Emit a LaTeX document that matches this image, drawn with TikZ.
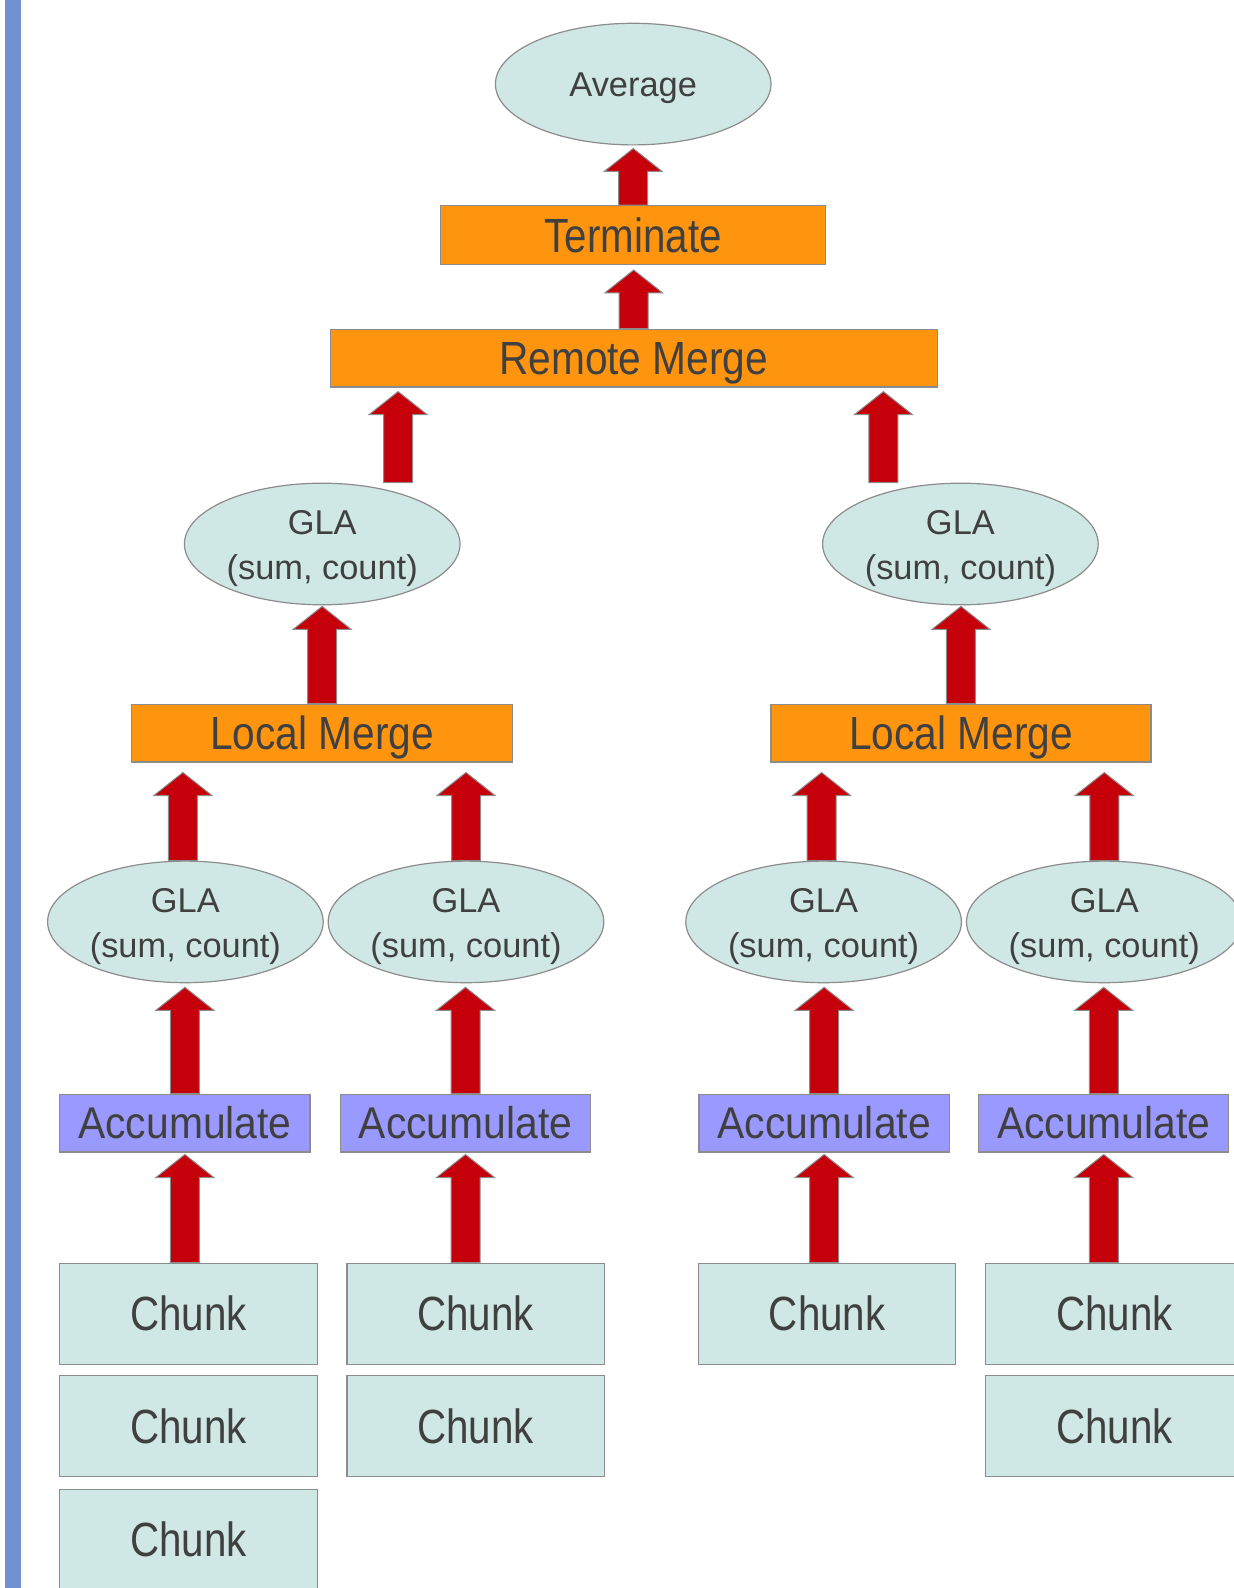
\documentclass[tikz,border=0pt]{standalone}
\usepackage{fontspec}
\setmainfont{Liberation Sans}
\newfontfamily\chunkfont[FakeStretch=0.84]{Liberation Sans}
\newfontfamily\accfont[FakeStretch=0.92]{Liberation Sans}
\newfontfamily\mergefont[FakeStretch=0.875]{Liberation Sans}
\usetikzlibrary{shapes.geometric,calc}

\definecolor{paleteal}{HTML}{CFE7E5}
\definecolor{boxorange}{HTML}{FF950E}
\definecolor{accviolet}{HTML}{9999FF}
\definecolor{arrowred}{HTML}{C5000B}
\definecolor{edgegray}{HTML}{8C8C8C}
\definecolor{inkgray}{HTML}{404040}
\definecolor{barblue}{HTML}{7391D0}

% block arrow pointing up: #1 = foot (sets x and bottom), #2 = tip height
\newcommand\flowarrow[2]{%
  \draw[flow] let \p1=(#1), \p2=(#2) in
    (\x1-7.25pt,\y1) -- (\x1-7.25pt,\y2-11.5pt) -- (\x1-14.5pt,\y2-11.5pt)
    -- (\x1,\y2) -- (\x1+14.5pt,\y2-11.5pt) -- (\x1+7.25pt,\y2-11.5pt)
    -- (\x1+7.25pt,\y1) -- cycle;}

% two-line aggregate label, first line given a taller strut to sit lower
\newcommand\glalabel{\rule{0pt}{16.7pt}GLA\\(sum, count)}

\tikzset{
  base/.style={draw=edgegray, line width=0.6pt, inner sep=0pt, text=inkgray},
  oval/.style={base, ellipse, fill=paleteal, minimum width=137.8pt,
    minimum height=60.8pt, align=center,
    font=\fontsize{17.2pt}{22.5pt}\selectfont},
  ovalone/.style={base, ellipse, fill=paleteal, minimum width=137.8pt,
    minimum height=60.8pt, font=\fontsize{17.2pt}{22.5pt}\selectfont,
    text height=12.3pt, text depth=0pt},
  stage/.style={base, rectangle, fill=boxorange,
    font=\mergefont\fontsize{23.25pt}{28pt}\selectfont,
    text height=16.6pt, text depth=0pt},
  accbox/.style={base, rectangle, fill=accviolet, minimum width=125.1pt,
    minimum height=28.85pt, font=\accfont\fontsize{22.2pt}{26pt}\selectfont,
    text height=15.9pt, text depth=0pt},
  chunkbox/.style={base, rectangle, fill=paleteal, minimum width=128.65pt,
    minimum height=50.4pt, font=\chunkfont\fontsize{24pt}{28pt}\selectfont,
    text height=17.2pt, text depth=0pt},
  flow/.style={fill=arrowred, draw=edgegray, line width=0.5pt, line join=miter}
}

\begin{document}
\begin{tikzpicture}[x=0.5pt, y=-0.5pt]
\useasboundingbox (0,0) rectangle (1233,1588);
\fill[barblue] (5,0) rectangle (21,1588);

% top of the tree
\node[ovalone] (avg) at (633.2,84.1) {Average};
\node[stage, minimum width=192.5pt, minimum height=29.35pt,
      font=\chunkfont\fontsize{24pt}{28pt}\selectfont, text height=17.2pt]
      (term) at (633.2,235.05) {Terminate};
\node[stage, minimum width=303.4pt, minimum height=28.85pt]
      (remote) at (633.7,358.15) {Remote Merge};

% per-node aggregates
\node[oval] (glaL) at (322.2,544) {\glalabel};
\node[oval] (glaR) at (960.4,544) {\glalabel};
\node[stage, minimum width=190.45pt, minimum height=28.9pt]
      (localL) at (322.15,733) {Local Merge};
\node[stage, minimum width=190pt, minimum height=28.9pt]
      (localR) at (960.95,733) {Local Merge};

% per-thread aggregates
\node[oval] (gla1) at (185.4,921.9) {\glalabel};
\node[oval] (gla2) at (466,921.9) {\glalabel};
\node[oval] (gla3) at (823.6,921.9) {\glalabel};
\node[oval] (gla4) at (1104.3,921.9) {\glalabel};

\node[accbox] (acc1) at (184.9,1123.05) {Accumulate};
\node[accbox] (acc2) at (465.5,1123.05) {Accumulate};
\node[accbox] (acc3) at (824.15,1123.05) {Accumulate};
\node[accbox] (acc4) at (1103.75,1123.05) {Accumulate};

% input chunks
\node[chunkbox] (c11) at (188.45,1313.7) {Chunk};
\node[chunkbox] (c12) at (188.45,1426.2) {Chunk};
\node[chunkbox] (c13) at (188.45,1539.7) {Chunk};
\node[chunkbox] (c21) at (475.65,1313.7) {Chunk};
\node[chunkbox] (c22) at (475.65,1426.2) {Chunk};
\node[chunkbox] (c31) at (827.2,1313.7) {Chunk};
\node[chunkbox] (c41) at (1114.35,1313.7) {Chunk};
\node[chunkbox] (c42) at (1114.35,1426.2) {Chunk};

% data flow arrows
\flowarrow{term.north}{$(avg.south)+(0,3)$}
\flowarrow{remote.north}{$(term.south)+(0,5)$}
\flowarrow{[xshift=37.95pt]glaL.north}{$(remote.south)+(0,4)$}
\flowarrow{[xshift=-38.5pt]glaR.north}{$(remote.south)+(0,4)$}
\flowarrow{localL.north}{$(glaL.south)+(0,1)$}
\flowarrow{localR.north}{$(glaR.south)+(0,1)$}
\flowarrow{[xshift=-1.25pt]gla1.north}{$(localL.south)+(0,10)$}
\flowarrow{gla2.north}{$(localL.south)+(0,10)$}
\flowarrow{[xshift=-1pt]gla3.north}{$(localR.south)+(0,10)$}
\flowarrow{gla4.north}{$(localR.south)+(0,10)$}
\flowarrow{acc1.north}{$(gla1.south)+(0,4)$}
\flowarrow{acc2.north}{$(gla2.south)+(0,4)$}
\flowarrow{acc3.north}{$(gla3.south)+(0,4)$}
\flowarrow{acc4.north}{$(gla4.south)+(0,4)$}
\flowarrow{c11.north -| acc1.south}{$(acc1.south)+(0,2)$}
\flowarrow{c21.north -| acc2.south}{$(acc2.south)+(0,2)$}
\flowarrow{c31.north -| acc3.south}{$(acc3.south)+(0,2)$}
\flowarrow{c41.north -| acc4.south}{$(acc4.south)+(0,2)$}
\end{tikzpicture}
\end{document}
